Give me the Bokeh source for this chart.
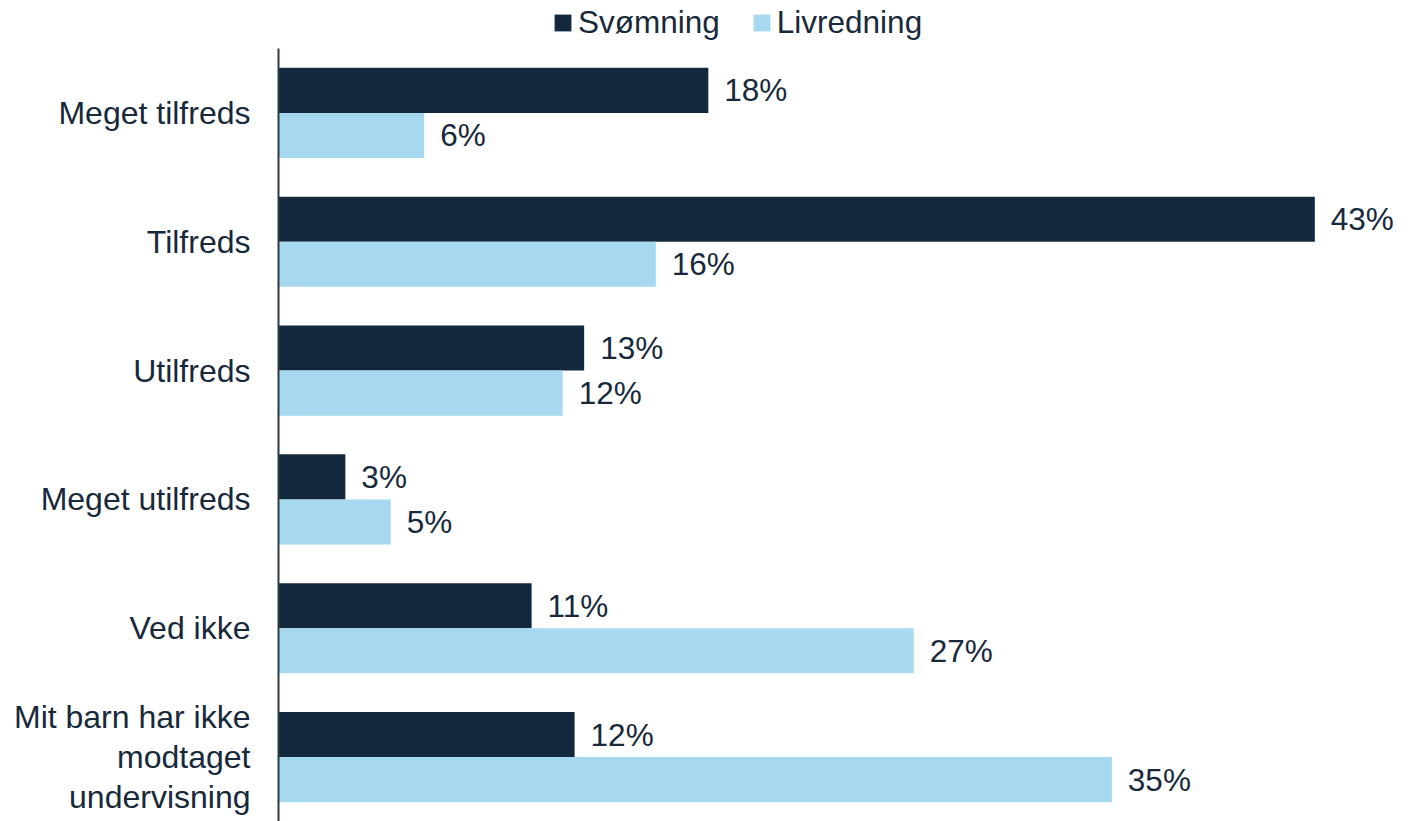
from bokeh.plotting import figure
from bokeh.layouts import column
from bokeh.models import ColumnDataSource, FactorRange, Legend, LegendItem, Range1d
from bokeh.transform import dodge
from bokeh.core.properties import value
from bokeh.embed import file_html
from bokeh.resources import INLINE

categories = ["Meget tilfreds", "Tilfreds", "Utilfreds", "Meget utilfreds", "Ved ikke",
              "Mit barn har ikke\nmodtaget\nundervisning"]
svoemning = [18.0, 43.4, 12.8, 2.8, 10.6, 12.4]
livredning = [6.1, 15.8, 11.9, 4.7, 26.6, 34.9]
series_names = ["Svømning", "Livredning"]

DARK = "#13283D"
LIGHT = "#A6D9EF"
TEXT = "#17293B"
FONT = "Liberation Sans"

src = ColumnDataSource(dict(
    cat=categories,
    s=svoemning,
    l=livredning,
    s_lab=[f"{v:.0f}%" for v in svoemning],
    l_lab=[f"{v:.0f}%" for v in livredning],
))

# ---- legend strip (top) ----
lg = figure(width=1422, height=48, output_backend="svg", toolbar_location=None,
            x_range=Range1d(0, 1), y_range=Range1d(0, 1),
            x_axis_location=None, y_axis_location=None,
            min_border_left=0, min_border_right=0, min_border_top=0, min_border_bottom=0)
lg.xgrid.visible = False
lg.ygrid.visible = False
lg.outline_line_color = None
# off-screen placeholder renderers that only carry the legend swatch styles
swatch = ColumnDataSource(dict(y=[-5.0], right=[0.0]))
d1 = lg.hbar(y="y", right="right", left=0, height=0.5, source=swatch, fill_color=DARK, line_color=None)
d2 = lg.hbar(y="y", right="right", left=0, height=0.5, source=swatch, fill_color=LIGHT, line_color=None)
legend = Legend(items=[LegendItem(label=series_names[0], renderers=[d1]),
                       LegendItem(label=series_names[1], renderers=[d2])],
                orientation="horizontal", location=(274, 7),
                glyph_width=21, glyph_height=21, label_standoff=5, spacing=31,
                padding=0, margin=0, border_line_color=None, background_fill_alpha=0,
                label_text_font=FONT, label_text_font_size="31.5px", label_text_color=TEXT)
lg.add_layout(legend, "center")

# ---- main chart ----
p = figure(width=1422, height=773, output_backend="svg", toolbar_location=None,
           y_range=FactorRange(*reversed(categories)), x_range=Range1d(0, 47.91),
           min_border_left=278, min_border_right=0, min_border_bottom=0, min_border_top=0)

r1 = p.hbar(y=dodge("cat", 0.175, range=p.y_range), right="s", left=0, height=0.35,
            source=src, fill_color=DARK, line_color=None)
r2 = p.hbar(y=dodge("cat", -0.175, range=p.y_range), right="l", left=0, height=0.35,
            source=src, fill_color=LIGHT, line_color=None)

for col, lab, off in (("s", "s_lab", 0.175), ("l", "l_lab", -0.175)):
    p.text(x=col, y=dodge("cat", off, range=p.y_range), text=lab, source=src,
           x_offset=16, text_align="left", text_baseline="middle",
           text_font=value(FONT), text_font_size="31.5px", text_color=TEXT)

p.xaxis.visible = False
p.xgrid.visible = False
p.ygrid.visible = False
p.outline_line_color = None

ax = p.yaxis[0]
ax.axis_line_color = "#2B3A4A"
ax.axis_line_width = 2
ax.major_tick_line_color = None
ax.minor_tick_line_color = None
ax.major_tick_out = 0
ax.major_tick_in = 0
ax.major_label_standoff = 28
ax.major_label_text_font = FONT
ax.major_label_text_font_size = "32px"
ax.major_label_text_color = TEXT
ax.major_label_text_line_height = 1.1

layout = column(lg, p, spacing=0)
open("out.html", "w").write(file_html(layout, INLINE))
